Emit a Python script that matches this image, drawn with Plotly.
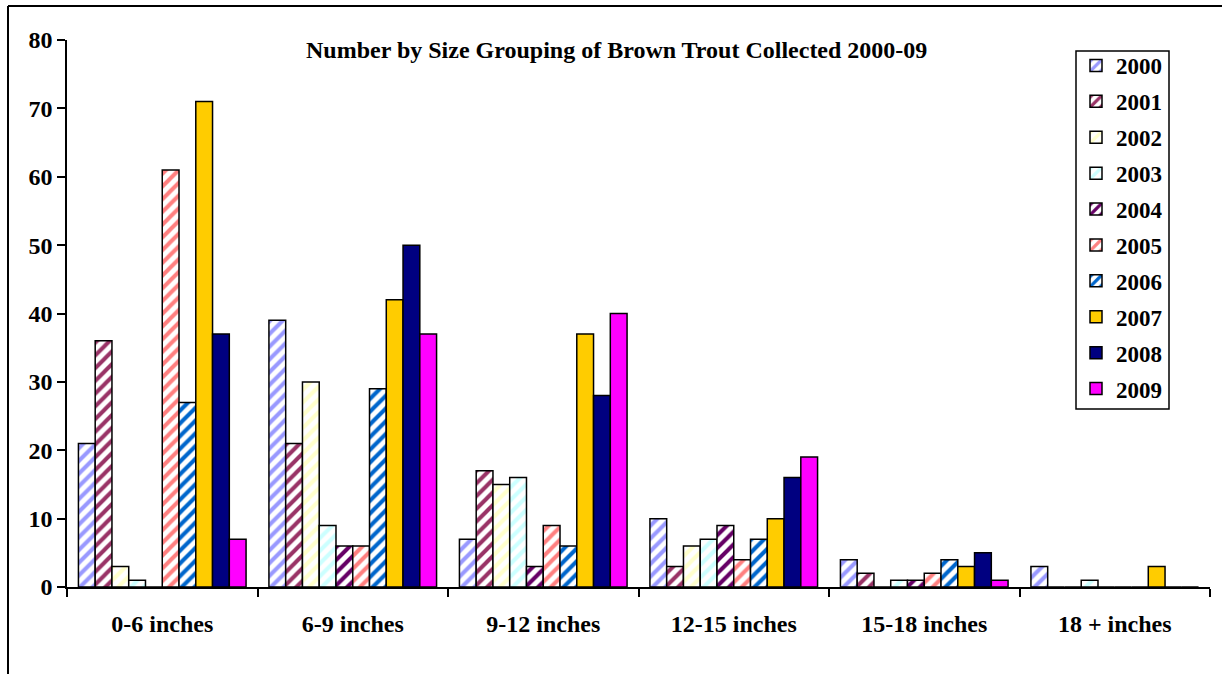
import plotly.graph_objects as go

categories = ["0-6 inches", "6-9 inches", "9-12 inches", "12-15 inches", "15-18 inches", "18 + inches"]
years = ["2000", "2001", "2002", "2003", "2004", "2005", "2006", "2007", "2008", "2009"]
y2000 = [21, 39, 7, 10, 4, 3]
y2001 = [36, 21, 17, 3, 2, 0]
y2002 = [3, 30, 15, 6, 0, 0]
y2003 = [1, 9, 16, 7, 1, 1]
y2004 = [0, 6, 3, 9, 1, 0]
y2005 = [61, 6, 9, 4, 2, 0]
y2006 = [27, 29, 6, 7, 4, 0]
y2007 = [71, 42, 37, 10, 3, 3]
y2008 = [37, 50, 28, 16, 5, 0]
y2009 = [7, 37, 40, 19, 1, 0]
series = [y2000, y2001, y2002, y2003, y2004, y2005, y2006, y2007, y2008, y2009]

colors = ["#9999FF", "#993366", "#FFFFCC", "#CCFFFF", "#660066",
          "#FF8080", "#0066CC", "#FFCC00", "#000080", "#FF00FF"]
patterned = [True, True, True, True, True, True, True, False, False, False]

FONT = "Liberation Serif"

W, H = 1222, 674
ML, MR, MT, MB = 67, 12, 40, 87
PW = W - ML - MR
PH = H - MT - MB


def px(xv):  # pixel x -> paper x
    return (xv - ML) / PW


def py(yv):  # pixel y -> paper y
    return (H - MB - yv) / PH


fig = go.Figure()
for i, (yr, vals) in enumerate(zip(years, series)):
    if patterned[i]:
        marker = dict(color="white",
                      pattern=dict(shape="/", fgcolor=colors[i], bgcolor="white",
                                   fgopacity=1, size=9, solidity=0.45,
                                   fillmode="overlay"),
                      line=dict(color="black", width=1.5))
    else:
        marker = dict(color=colors[i], line=dict(color="black", width=1.5))
    fig.add_trace(go.Bar(x=categories, y=vals, name=yr, marker=marker,
                         legendgroup=yr))

fig.update_layout(
    width=W, height=H,
    margin=dict(l=ML, r=MR, t=MT, b=MB, autoexpand=False),
    paper_bgcolor="white", plot_bgcolor="white",
    barmode="group", bargap=0.12, bargroupgap=0,
    font=dict(family=FONT, color="black"),
    showlegend=True,
    legend=dict(x=px(1076), y=py(44), xanchor="left", yanchor="top",
                borderwidth=0, bgcolor="rgba(0,0,0,0)",
                font=dict(family=FONT, size=23, color="black", weight="bold"),
                tracegroupgap=3, itemwidth=30, traceorder="grouped"),
    annotations=[dict(text="Number by Size Grouping of Brown Trout Collected 2000-09",
                      xref="paper", yref="paper", x=px(616), y=py(50),
                      xanchor="center", yanchor="middle", showarrow=False,
                      font=dict(family=FONT, size=24, color="black", weight="bold"))],
    shapes=[
        dict(type="rect", xref="paper", yref="paper", layer="below",
             x0=px(1076), x1=px(1169), y0=py(51), y1=py(409),
             line=dict(color="black", width=1.5), fillcolor="white"),
        dict(type="line", xref="paper", yref="paper",
             x0=px(8), x1=px(8), y0=py(6), y1=py(700),
             line=dict(color="black", width=2)),
        dict(type="line", xref="paper", yref="paper",
             x0=px(8), x1=px(1240), y0=py(6), y1=py(6),
             line=dict(color="black", width=2)),
    ],
)
fig.update_xaxes(type="category", range=[-0.5, 5.5], tickson="boundaries",
                 ticks="outside", ticklen=8, tickwidth=1.5, tickcolor="black",
                 showline=True, linecolor="black", linewidth=1.5, showgrid=False,
                 ticklabelstandoff=14,
                 tickfont=dict(family=FONT, size=24, color="black", weight="bold"))
fig.update_yaxes(range=[0, 80], dtick=10, ticks="outside", ticklen=8, tickwidth=1.5,
                 tickcolor="black", showline=True, linecolor="black", linewidth=1.5,
                 showgrid=False, zeroline=False,
                 tickfont=dict(family=FONT, size=24, color="black", weight="bold"))

# remove the default 8px page margin so the figure fills the window exactly
fig.write_html("out.html", config={"displayModeBar": False},
               post_script="document.body.style.margin='0';document.body.style.overflow='hidden';")
